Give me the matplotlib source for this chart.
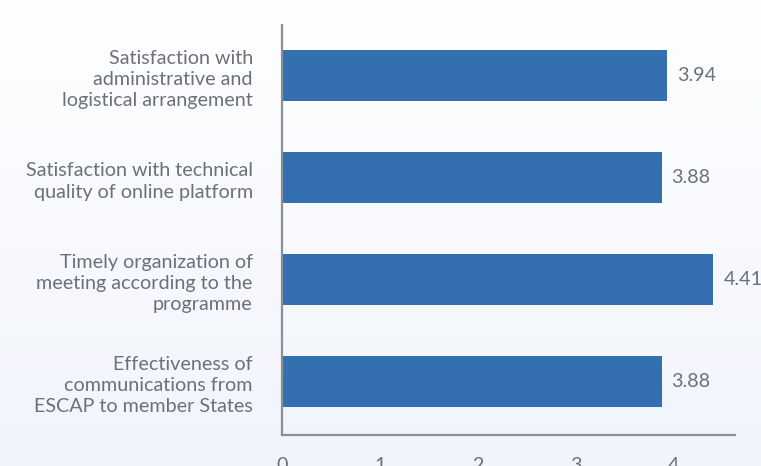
import numpy as np
import matplotlib.pyplot as plt

categories = ["Satisfaction with\nadministrative and\nlogistical arrangement",
              "Satisfaction with technical\nquality of online platform",
              "Timely organization of\nmeeting according to the\nprogramme",
              "Effectiveness of\ncommunications from\nESCAP to member States"]
scores = [3.94, 3.88, 4.41, 3.88]
ticks = [0, 1, 2, 3, 4]

plt.rcParams['font.family'] = ['Lato', 'DejaVu Sans']
txtcol = "#6c7078"
barcol = "#3470b0"

fig = plt.figure(figsize=(7.61, 4.66), dpi=100)

# soft white -> light blue background
bg = fig.add_axes([0, 0, 1, 1], zorder=-1)
grad = np.linspace(0, 1, 256).reshape(-1, 1)
top = np.array([1.0, 1.0, 1.0])
bot = np.array([0xf1, 0xf4, 0xfc]) / 255
img = top + (bot - top) * grad[:, :, None]
bg.imshow(img, aspect="auto", extent=[0, 1, 0, 1])
bg.axis("off")

ax = fig.add_axes([282/761, 31/466, (735-282)/761, (435-25)/466])
ax.patch.set_alpha(0)
y = np.arange(len(categories))
ax.barh(y, scores, height=0.5, color=barcol)
for yi, s in zip(y, scores):
    ax.text(s + 0.1, yi, f"{s:.2f}", va="center", ha="left", fontsize=14.2, color=txtcol)

ax.set_yticks(y)
ax.set_yticklabels(categories, fontsize=14.2, color=txtcol, linespacing=1.3, ha="right")
ax.set_xticks(ticks)
ax.set_xticklabels([str(t) for t in ticks], fontsize=14.2, color=txtcol)
ax.set_xlim(0, 4.63)
ax.set_ylim(3.52, -0.5)
ax.tick_params(axis="y", length=0, pad=21)
ax.tick_params(axis="x", length=0, pad=16)
for side in ["top", "right"]:
    ax.spines[side].set_visible(False)
for side in ["left", "bottom"]:
    ax.spines[side].set_color("#8a8f97")
    ax.spines[side].set_linewidth(1.6)

fig.savefig("out.png", dpi=100)
